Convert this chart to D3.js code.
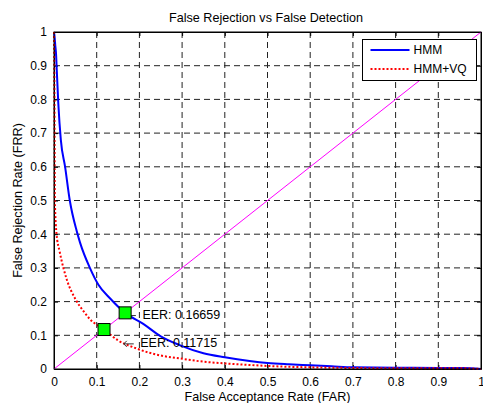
<!DOCTYPE html>
<html>
<head>
<meta charset="utf-8">
<script src="https://cdn.jsdelivr.net/npm/d3@7"></script>
<style>
  body { margin: 0; background: #fff; }
  text { font-family: "Liberation Sans", Arial, sans-serif; fill: #000; }
</style>
</head>
<body>
<div id="chart"></div>
<script>
// data
var hmmFAR = [0, 0.001, 0.003, 0.005, 0.006, 0.01, 0.016, 0.026, 0.037, 0.053, 0.061, 0.084, 0.104, 0.131, 0.1666, 0.209, 0.25, 0.294, 0.35, 0.4, 0.458, 0.5, 0.55, 0.6, 0.65, 0.7, 0.8, 0.9, 0.96, 1];
var hmmFRR = [1, 0.99, 0.96, 0.93, 0.90, 0.79, 0.68, 0.60, 0.50, 0.41, 0.375, 0.30, 0.25, 0.21, 0.1666, 0.134, 0.097, 0.071, 0.047, 0.035, 0.024, 0.018, 0.014, 0.011, 0.008, 0.005, 0.004, 0.003, 0.003, 0];
var vqFAR = [0, 0.001, 0.002, 0.006, 0.013, 0.022, 0.03, 0.049, 0.07, 0.084, 0.1172, 0.15, 0.193, 0.224, 0.25, 0.302, 0.341, 0.395, 0.458, 0.5, 0.6, 0.7, 0.8, 0.9, 0.96, 1];
var vqFRR = [1, 0.82, 0.50, 0.40, 0.35, 0.30, 0.265, 0.21, 0.17, 0.148, 0.1172, 0.085, 0.061, 0.048, 0.040, 0.030, 0.023, 0.017, 0.012, 0.009, 0.005, 0.003, 0.002, 0.002, 0.002, 0];
var eerPoints = [[0.16659, 0.16659], [0.11715, 0.11715]];
var eerLabels = ["EER: 0.16659", "EER: 0.11715"];
var eerLabelPos = [[0.166, 0.163], [0.161, 0.079]];
var ticks = d3.range(0, 1.01, 0.1);
var tickLabels = ["0", "0.1", "0.2", "0.3", "0.4", "0.5", "0.6", "0.7", "0.8", "0.9", "1"];
var seriesNames = ["HMM", "HMM+VQ"];

var svgWidth = 483, svgHeight = 403;
var margin = { top: 32, right: 2, bottom: 34, left: 54 };
var width = svgWidth - margin.left - margin.right;
var height = svgHeight - margin.top - margin.bottom;

var svg = d3.select("#chart").append("svg")
  .attr("width", svgWidth)
  .attr("height", svgHeight);

var g = svg.append("g")
  .attr("transform", `translate(${margin.left}, ${margin.top})`);

var x = d3.scaleLinear().domain([0, 1]).range([0, width]);
var y = d3.scaleLinear().domain([0, 1]).range([height, 0]);

// grid
g.append("g").selectAll("line")
  .data(ticks.slice(1, -1))
  .enter().append("line")
  .attr("x1", d => x(d)).attr("x2", d => x(d))
  .attr("y1", 0).attr("y2", height)
  .attr("stroke", "#222").attr("stroke-width", 1)
  .attr("stroke-dasharray", "6,4");
g.append("g").selectAll("line")
  .data(ticks.slice(1, -1))
  .enter().append("line")
  .attr("y1", d => y(d)).attr("y2", d => y(d))
  .attr("x1", 0).attr("x2", width)
  .attr("stroke", "#222").attr("stroke-width", 1)
  .attr("stroke-dasharray", "6,4");

// axes with inward ticks
var fmt = (d, i) => tickLabels[i];
g.append("g").attr("transform", `translate(0, ${height})`)
  .call(d3.axisBottom(x).tickValues(ticks).tickFormat(fmt).tickSizeInner(-4).tickSizeOuter(0).tickPadding(8));
g.append("g")
  .call(d3.axisLeft(y).tickValues(ticks).tickFormat(fmt).tickSizeInner(-4).tickSizeOuter(0).tickPadding(7));
g.append("g")
  .call(d3.axisTop(x).tickValues(ticks).tickFormat("").tickSizeInner(-4).tickSizeOuter(0));
g.append("g").attr("transform", `translate(${width}, 0)`)
  .call(d3.axisRight(y).tickValues(ticks).tickFormat("").tickSizeInner(-4).tickSizeOuter(0));
g.selectAll(".domain").attr("stroke", "#000");
g.selectAll(".tick line").attr("stroke", "#000");
g.selectAll(".tick text").style("font-size", "12px").style("font-family", "Liberation Sans, Arial, sans-serif");

// diagonal
g.append("line")
  .attr("x1", x(0)).attr("y1", y(0)).attr("x2", x(1)).attr("y2", y(1))
  .attr("stroke", "#ff00ff").attr("stroke-width", 1);

var line = d3.line().x(d => x(d[0])).y(d => y(d[1])).curve(d3.curveMonotoneX);

g.append("path")
  .datum(hmmFAR.map((d, i) => [d, hmmFRR[i]]))
  .attr("d", line)
  .attr("fill", "none").attr("stroke", "#0000ff").attr("stroke-width", 2);

g.append("path")
  .datum(vqFAR.map((d, i) => [d, vqFRR[i]]))
  .attr("d", line)
  .attr("fill", "none").attr("stroke", "#ff0000").attr("stroke-width", 2)
  .attr("stroke-dasharray", "2,2");

// annotations: arrow + text
var ann = g.selectAll(".ann")
  .data(eerLabels)
  .enter().append("g")
  .attr("transform", (d, i) => `translate(${x(eerLabelPos[i][0])}, ${y(eerLabelPos[i][1])})`);
ann.append("path")
  .attr("d", "M1,1.5 L11,1.5 M4,-1.5 L1,1.5 L4,4.5")
  .attr("fill", "none").attr("stroke", "#333").attr("stroke-width", 1);
ann.append("text")
  .attr("x", 17.5).attr("dy", "0.36em")
  .style("font-size", "12.5px")
  .text(d => d);

// EER markers
g.selectAll(".eer")
  .data(eerPoints)
  .enter().append("rect")
  .attr("x", d => x(d[0]) - 6)
  .attr("y", d => y(d[1]) - 6)
  .attr("width", 12).attr("height", 12)
  .attr("fill", "#00ff00").attr("stroke", "#000").attr("stroke-width", 1);

// border on top
g.append("rect")
  .attr("width", width).attr("height", height)
  .attr("fill", "none").attr("stroke", "#000").attr("stroke-width", 1);

// legend
var legend = svg.append("g").attr("transform", "translate(362.5, 39.5)");
legend.append("rect")
  .attr("width", 114).attr("height", 41)
  .attr("fill", "#fff").attr("stroke", "#000");
var legStyles = [{ c: "#0000ff", dash: null }, { c: "#ff0000", dash: "2,2" }];
seriesNames.forEach(function (name, i) {
  legend.append("line")
    .attr("x1", 8).attr("x2", 47)
    .attr("y1", 10.5 + i * 19).attr("y2", 10.5 + i * 19)
    .attr("stroke", legStyles[i].c).attr("stroke-width", 2)
    .attr("stroke-dasharray", legStyles[i].dash);
  legend.append("text")
    .attr("x", 51).attr("y", 10.5 + i * 19).attr("dy", "0.36em")
    .style("font-size", "12px")
    .text(name);
});

// titles
svg.append("text")
  .attr("x", 266).attr("y", 22)
  .attr("text-anchor", "middle").style("font-size", "12.6px")
  .text("False Rejection vs False Detection");
svg.append("text")
  .attr("x", margin.left + width / 2).attr("y", 401)
  .attr("text-anchor", "middle").style("font-size", "12.6px")
  .text("False Acceptance Rate (FAR)");
svg.append("text")
  .attr("transform", `translate(22, ${margin.top + height / 2}) rotate(-90)`)
  .attr("text-anchor", "middle").style("font-size", "12.6px")
  .text("False Rejection Rate (FRR)");
</script>
</body>
</html>
